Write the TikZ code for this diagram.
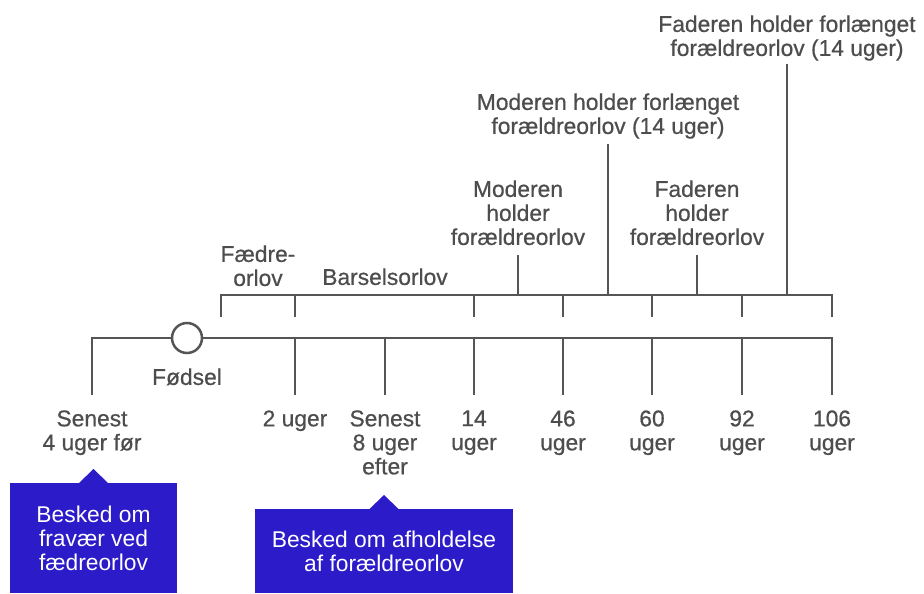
\documentclass[tikz,border=0pt]{standalone}
\usepackage{fontspec}
\setmainfont{Liberation Sans}
\newfontfamily\labelfont[FakeBold=0.6]{Liberation Sans}
\definecolor{rulegray}{HTML}{555555}
\definecolor{textgray}{HTML}{4D4D4D}
\definecolor{noteblue}{HTML}{2B1BC8}
\tikzset{
  rule/.style={draw=rulegray, line width=1.25pt},
  lbl/.style={text=textgray, align=center, inner sep=0pt, anchor=north, font=\labelfont\fontsize{11.4}{12}\selectfont},
  notebox/.style={fill=noteblue, text=white, align=center, inner sep=0pt, anchor=north, font=\fontsize{11.4}{12}\selectfont}
}
\begin{document}
\begin{tikzpicture}[x=0.5pt, y=-0.5pt]
        \useasboundingbox (0,0) rectangle (924,593);

        % time line
        \node[circle, rule, fill=white, minimum size=15pt, inner sep=0pt] (birth) at (187,338) {};
        \coordinate (w4) at (92,395);
        \coordinate (w2) at (295,395);
        \coordinate (w8) at (385,395);
        \coordinate (w14) at (474,395);
        \coordinate (w46) at (563,395);
        \coordinate (w60) at (652,395);
        \coordinate (w92) at (742,395);
        \coordinate (w106) at (832,395);

        \draw[rule] (w4) |- (birth.west);
        \draw[rule] (birth.east) -| (w106);
        \draw[rule] (w2) -- (w2 |- birth);
        \draw[rule] (w8) -- (w8 |- birth);
        \draw[rule] (w14) -- (w14 |- birth);
        \draw[rule] (w46) -- (w46 |- birth);
        \draw[rule] (w60) -- (w60 |- birth);
        \draw[rule] (w92) -- (w92 |- birth);

        % leave bracket
        \coordinate (p0) at (221,317);
        \coordinate (p2) at (295,317);
        \coordinate (p14) at (474,317);
        \coordinate (p46) at (563,317);
        \coordinate (p60) at (652,317);
        \coordinate (p92) at (742,317);
        \coordinate (p106) at (832,317);
        \coordinate (top106) at (832,295);

        \draw[rule] (p0) |- (top106) -- (p106);
        \draw[rule] (p2) -- (p2 |- top106);
        \draw[rule] (p14) -- (p14 |- top106);
        \draw[rule] (p46) -- (p46 |- top106);
        \draw[rule] (p60) -- (p60 |- top106);
        \draw[rule] (p92) -- (p92 |- top106);

        \coordinate (mor1) at (518,255);
        \coordinate (mor2) at (608,144);
        \coordinate (fad1) at (697,255);
        \coordinate (fad2) at (787,64);
        \draw[rule] (mor1) -- (mor1 |- top106);
        \draw[rule] (mor2) -- (mor2 |- top106);
        \draw[rule] (fad1) -- (fad1 |- top106);
        \draw[rule] (fad2) -- (fad2 |- top106);

        % labels
        \node[lbl] (l4) at (92,410) {Senest\\4 uger før};
        \node[lbl] (lbirth) at (187,368) {Fødsel};
        \node[lbl] (l2) at (295,410) {2 uger};
        \node[lbl] (l8) at (385,410) {Senest\\8 uger\\efter};
        \node[lbl] (l14) at (474,410) {14\\uger};
        \node[lbl] (l46) at (563,410) {46\\uger};
        \node[lbl] (l60) at (652,410) {60\\uger};
        \node[lbl] (l92) at (742,410) {92\\uger};
        \node[lbl] (l106) at (832,410) {106\\uger};

        \node[lbl] (lfar) at (258,245) {Fædre-\\orlov};
        \node[lbl] (lbarsel) at (385,268) {Barselsorlov};
        \node[lbl] (lmor1) at (518,180) {Moderen\\holder\\forældreorlov};
        \node[lbl] (lfad1) at (697,180) {Faderen\\holder\\forældreorlov};
        \node[lbl] (lmor2) at (608,93) {Moderen holder forlænget\\forældreorlov (14 uger)};
        \node[lbl] (lfad2) at (787,15) {Faderen holder forlænget\\forældreorlov (14 uger)};

        % notices
        \node[notebox, minimum width=83.5pt, minimum height=55pt] (note1) at (93.5,483) {Besked om\\fravær ved\\fædreorlov};
        \node[notebox, minimum width=129pt, minimum height=42pt] (note2) at (384,509) {Besked om afholdelse\\af forældreorlov};
        \fill[noteblue] (note1.north) ++(-14.5,0) -- ++(14.5,-14) -- ++(14.5,14) -- cycle;
        \fill[noteblue] (note2.north) ++(-14.5,0) -- ++(14.5,-14) -- ++(14.5,14) -- cycle;
\end{tikzpicture}
\end{document}
